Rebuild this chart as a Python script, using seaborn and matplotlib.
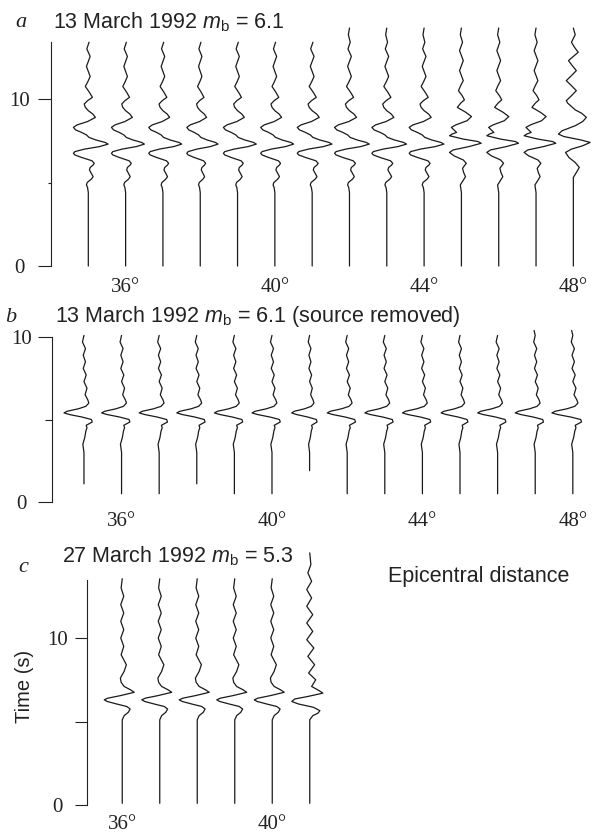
import matplotlib
matplotlib.use("Agg")
import matplotlib.pyplot as plt
import seaborn as sns
import pandas as pd

# --- Epicentral distances (deg) of the traces ---
dist_a = [35, 36, 37, 38, 39, 40, 41, 42, 43, 44, 45, 46, 47, 48]
dist_b = [35, 36, 37, 38, 39, 40, 41, 42, 43, 44, 45, 46, 47, 48]
dist_c = [36, 37, 38, 39, 40, 41]

# --- Panel a: 13 March 1992, waveforms read at key points (time s, deflection deg) ---
wave_a_t = [0.0, 4.4, 4.7, 4.85, 5.0, 5.2, 5.35, 5.55, 5.75, 5.9, 6.05, 6.15, 6.3, 6.5, 6.65,
            6.75, 6.85, 7.0, 7.15, 7.3, 7.4, 7.55, 7.7, 7.85, 8.0, 8.15, 8.3, 8.45, 8.65, 8.9,
            9.1, 9.3, 9.5, 9.7, 9.9, 10.1, 10.4, 10.75, 11.05, 11.35, 11.65, 11.95, 12.25,
            12.55, 13.0, 13.4, 13.85, 14.25]
wave_a_d = [0, 0, -0.02, -0.05, -0.03, 0.08, 0.13, 0.08, 0.03, 0.05, 0.13, 0.16, 0.10, -0.18,
            -0.36, -0.40, -0.36, -0.10, 0.30, 0.53, 0.45, 0.20, 0.02, -0.05, -0.18, -0.34, -0.40,
            -0.30, -0.02, 0.19, 0.12, 0.0, -0.08, -0.11, -0.02, 0.11, 0.03, -0.08, -0.01, 0.05,
            0.0, -0.05, 0.0, 0.05, -0.04, 0.02, -0.03, 0]
# traces 45-47: notched trough before the main swing
wave_a2_t = [0.0, 4.4, 4.85, 5.1, 5.35, 5.6, 5.85, 6.0, 6.15, 6.35, 6.6, 6.8, 6.95, 7.15, 7.35,
             7.45, 7.6, 7.8, 7.9, 8.0, 8.15, 8.3, 8.45, 8.7, 8.95, 9.2, 9.5, 9.75, 9.95, 10.2,
             10.5, 10.8, 11.1, 11.4, 11.7, 12.0, 12.3, 12.6, 12.9, 13.4, 13.85, 14.25]
wave_a2_d = [0, 0, -0.03, 0.04, 0.11, 0.06, 0.03, 0.08, 0.13, 0.05, -0.20, -0.32, -0.22, 0.20,
             0.53, 0.45, 0.05, -0.32, -0.25, -0.13, -0.20, -0.27, -0.15, 0.15, 0.27, 0.12, -0.11,
             -0.02, 0.08, 0.02, -0.08, -0.02, 0.05, 0.0, -0.05, 0.0, 0.05, 0.0, -0.05, 0.03,
             -0.03, 0]
# trace 48
wave_a3_t = [0.0, 4.4, 5.3, 5.6, 5.9, 6.2, 6.5, 6.8, 7.0, 7.2, 7.4, 7.55, 7.75, 7.9, 8.1, 8.4,
             8.65, 8.9, 9.15, 9.35, 9.55, 9.75, 9.9, 10.2, 10.5, 10.8, 11.1, 11.4, 11.7, 12.0,
             12.3, 12.55, 12.8, 13.1, 13.4, 13.85, 14.25]
wave_a3_d = [0, 0, 0, 0.08, 0.16, 0.05, -0.12, -0.21, -0.05, 0.25, 0.45, 0.20, -0.25, -0.40,
             -0.30, 0.05, 0.25, 0.35, 0.22, 0.05, -0.05, -0.15, -0.19, -0.05, 0.08, -0.05, -0.19,
             -0.05, 0.08, -0.03, -0.13, 0.0, 0.13, 0.03, -0.05, 0.05, 0]
shape_a = ["a1"] * 10 + ["a2"] * 3 + ["a3"]
gain_a = [1.0, 0.95, 0.95, 0.9, 0.95, 0.95, 1.0, 1.0, 1.0, 1.0, 1.0, 1.0, 1.0, 1.0]
bot_a = [0.0] * 14
top_a = [13.4, 13.4, 13.4, 13.4, 13.4, 13.4, 13.4, 14.25, 14.25, 14.25, 14.25, 14.25, 14.25, 14.25]

# --- Panel b: source removed ---
wave_b_t = [0.5, 1.1, 1.9, 3.0, 3.5, 3.9, 4.3, 4.5, 4.65, 4.85, 5.0, 5.15, 5.3, 5.4, 5.5, 5.65,
            5.8, 6.0, 6.2, 6.5, 6.9, 7.3, 7.7, 8.1, 8.5, 8.9, 9.3, 9.7, 10.1, 10.4]
wave_b_d = [0, 0, 0, 0, -0.03, 0.02, 0.05, 0.08, 0.06, 0.22, 0.20, -0.05, -0.38, -0.53, -0.45,
            -0.15, 0.05, 0.13, 0.10, 0.03, 0.08, 0.0, 0.06, -0.02, 0.04, -0.02, 0.04, -0.04, 0.0,
            -0.03]
shape_b = ["b1"] * 14
gain_b = [1.0, 1.0, 1.0, 1.0, 1.0, 1.0, 0.9, 1.0, 1.0, 1.0, 0.95, 1.0, 1.0, 1.05]
bot_b = [1.1, 0.5, 0.5, 1.1, 0.5, 0.5, 1.9, 0.5, 0.5, 0.5, 0.5, 0.5, 0.5, 0.5]
top_b = [10.1] * 12 + [10.4, 10.4]

# --- Panel c: 27 March 1992 ---
wave_c_t = [0.1, 5.1, 5.35, 5.55, 5.75, 5.9, 6.05, 6.2, 6.3, 6.4, 6.55, 6.75, 6.9, 7.1, 7.35,
            7.6, 8.0, 8.4, 9.0, 9.5, 10.0, 10.5, 11.0, 11.5, 12.0, 12.5, 13.0, 13.55]
wave_c_d = [0, 0, 0.05, 0.16, 0.21, 0.12, -0.15, -0.40, -0.48, -0.38, -0.05, 0.32, 0.22, 0.05,
            -0.03, -0.05, 0.05, 0.11, -0.03, 0.04, -0.04, 0.04, -0.04, 0.04, -0.04, 0.04, -0.03, 0]
wave_c2_t = [0.1, 5.1, 5.35, 5.5, 5.65, 5.85, 6.05, 6.2, 6.35, 6.5, 6.7, 6.85, 7.1, 7.5, 7.9,
             8.4, 8.9, 9.4, 9.9, 10.4, 10.9, 11.4, 11.9, 12.4, 12.9, 13.4, 13.9, 14.4, 15.1]
wave_c2_d = [0, 0, 0.08, 0.22, 0.27, 0.10, -0.30, -0.48, -0.40, -0.05, 0.35, 0.25, 0.05, 0.16,
             -0.03, 0.13, -0.05, 0.11, -0.08, 0.08, -0.08, 0.08, -0.08, 0.05, -0.08, 0.05, -0.05,
             0.03, 0]
shape_c = ["c1"] * 5 + ["c2"]
gain_c = [1.0, 1.0, 1.0, 1.0, 1.0, 1.0]
bot_c = [0.1] * 6
top_c = [13.55] * 5 + [15.1]

waves = {
    "a1": (wave_a_t, wave_a_d), "a2": (wave_a2_t, wave_a2_d), "a3": (wave_a3_t, wave_a3_d),
    "b1": (wave_b_t, wave_b_d),
    "c1": (wave_c_t, wave_c_d), "c2": (wave_c2_t, wave_c2_d),
}

deg_ticks_ab = [36, 40, 44, 48]
deg_ticks_c = [36, 40]


def build_traces(dists, shapes, gains, bots, tops):
    rows = []
    for i, (d, s, g, lo, hi) in enumerate(zip(dists, shapes, gains, bots, tops)):
        tt, dd = waves[s]
        for t, v in zip(tt, dd):
            if lo <= t <= hi:
                rows.append((i, t, d + g * v))
    return pd.DataFrame(rows, columns=["trace", "time", "x"])


# --- Figure ---
sns.set_theme(style="ticks")
plt.rcParams["font.family"] = ["Liberation Sans", "DejaVu Sans"]
plt.rcParams["mathtext.fontset"] = "custom"
plt.rcParams["mathtext.rm"] = "Liberation Sans"
plt.rcParams["mathtext.it"] = "Liberation Sans:italic"

W, H = 592, 833
fig = plt.figure(figsize=(W / 100, H / 100), dpi=100)


def rect(left, top, right, bottom):
    return [left / W, 1 - bottom / H, (right - left) / W, (bottom - top) / H]


def fx(px):
    return px / W


def fy(py):
    return 1 - py / H


SERIF = "Liberation Serif"
LC = "#1a1a1a"


def draw_panel(ax, df, xlim, ylim, spine_top, spine_x, xticks, minor_len, tick_len, lab_pad, xpad):
    sns.lineplot(data=df, x="x", y="time", units="trace", estimator=None, sort=False,
                 color=LC, lw=0.9, ax=ax, clip_on=False)
    ax.set_xlim(*xlim)
    ax.set_ylim(*ylim)
    ax.set_xlabel("")
    ax.set_ylabel("")
    for s in ["top", "right", "bottom"]:
        ax.spines[s].set_visible(False)
    ax.spines["left"].set_bounds(0, spine_top)
    ax.spines["left"].set_color("#222222")
    ax.spines["left"].set_linewidth(0.8)
    if spine_x is not None:
        ax.spines["left"].set_position(("data", spine_x))
    ax.set_yticks([0, 10])
    ax.set_yticks([5], minor=True)
    ax.set_yticklabels(["0", "10"])
    ax.tick_params(axis="y", which="major", length=tick_len, width=0.8, color="#222222",
                   pad=lab_pad, labelsize=15)
    ax.tick_params(axis="y", which="minor", length=minor_len, width=0.8, color="#222222")
    plt.setp(ax.get_yticklabels(), family=SERIF, ha="center", color="#222222")
    ax.set_xticks(xticks)
    ax.set_xticklabels([f"{v}\u00b0" for v in xticks])
    ax.tick_params(axis="x", length=0, pad=xpad, labelsize=15)
    plt.setp(ax.get_xticklabels(), family=SERIF, color="#222222")
    ax.patch.set_alpha(0)


df_a = build_traces(dist_a, shape_a, gain_a, bot_a, top_a)
df_b = build_traces(dist_b, shape_b, gain_b, bot_b, top_b)
df_c = build_traces(dist_c, shape_c, gain_c, bot_c, top_c)

ax_a = fig.add_axes(rect(51, 27.2, 592, 266))
draw_panel(ax_a, df_a, (34.0, 48.5), (0, 14.3), 13.4, None, deg_ticks_ab, 2.5, 9.4, 13, 9)

ax_b = fig.add_axes(rect(52, 328.8, 592, 502))
draw_panel(ax_b, df_b, (34.15, 48.51), (0, 10.5), 10, None, deg_ticks_ab, 5, 10, 12, 7)

ax_c = fig.add_axes(rect(51, 551.2, 591, 805))
draw_panel(ax_c, df_c, (34.1, 48.5), (0, 15.2), 13.5, 35.05, deg_ticks_c, 8.6, 8.6, 12.4, 7)

# --- Titles and labels ---
fig.text(fx(15), fy(27), "a", family=SERIF, style="italic", size=16, va="baseline", color="#222222")
fig.text(fx(53), fy(28), r"13 March 1992 $m_{\mathrm{b}}$ = 6.1", size=15.5, va="baseline",
         color="#222222")
fig.text(fx(5), fy(322), "b", family=SERIF, style="italic", size=16, va="baseline", color="#222222")
fig.text(fx(55), fy(322), r"13 March 1992 $m_{\mathrm{b}}$ = 6.1 (source removed)", size=15.5,
         va="baseline", color="#222222")
fig.text(fx(18), fy(572), "c", family=SERIF, style="italic", size=16, va="baseline", color="#222222")
fig.text(fx(62), fy(562), r"27 March 1992 $m_{\mathrm{b}}$ = 5.3", size=15.5, va="baseline",
         color="#222222")
fig.text(fx(388), fy(582), "Epicentral distance", size=15.5, va="baseline", color="#222222")
fig.text(fx(25), fy(686), "Time (s)", size=14.5, rotation=90, ha="center", va="center",
         color="#222222")

fig.savefig("out.png", dpi=100)
